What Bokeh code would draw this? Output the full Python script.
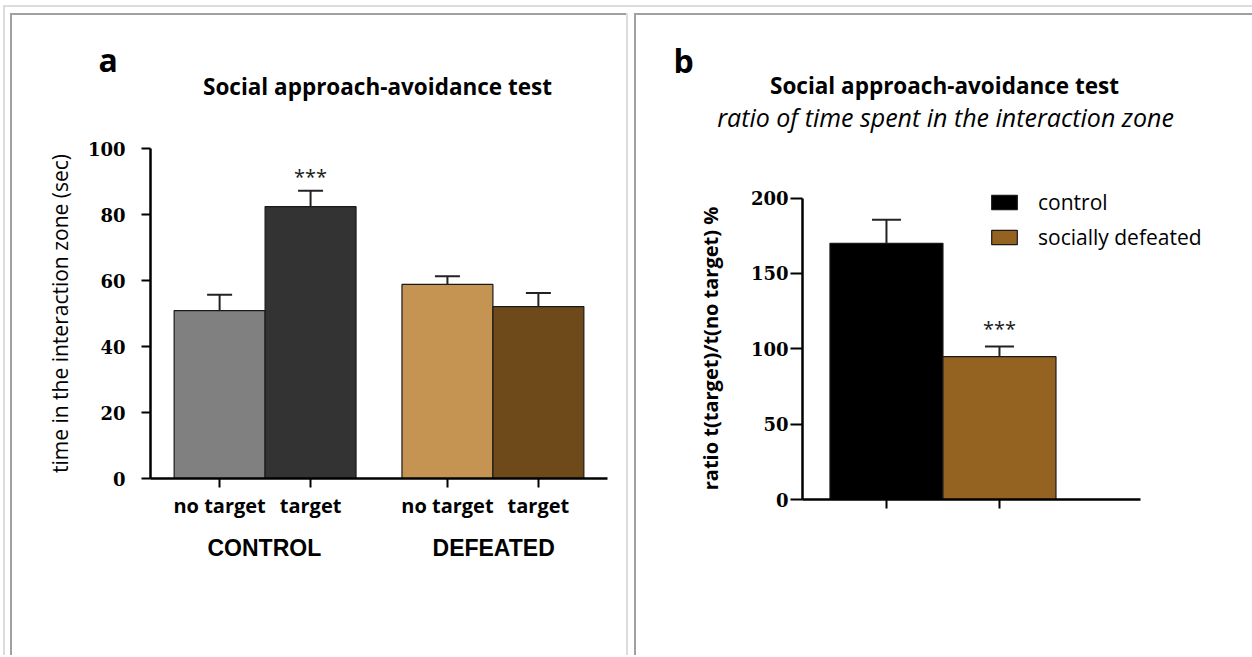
import math
from bokeh.plotting import figure
from bokeh.models import (ColumnDataSource, FactorRange, Range1d, Label, Spacer,
                          Legend, LegendItem, FixedTicker, CategoricalAxis)
from bokeh.layouts import row, column
from bokeh.embed import file_html
from bokeh.resources import INLINE
from bokeh.core.properties import value

# ---------------- panel a data ----------------
groups_a = ["CONTROL", "CONTROL", "DEFEATED", "DEFEATED"]
conditions_a = ["no target", "target", "no target", "target"]
time_mean = [50.9, 82.4, 58.8, 52.1]
time_sem = [4.8, 4.8, 2.5, 4.1]
colors_a = ["#808080", "#333333", "#c69452", "#6e4a1b"]
sig_a = ["", "***", "", ""]
yticks_a = [0, 20, 40, 60, 80, 100]
ylabel_a = "time in the interaction zone (sec)"
title_a = "Social approach-avoidance test"
panel_a = "a"

# ---------------- panel b data ----------------
groups_b = ["control", "socially defeated"]
ratio_mean = [170.0, 94.8]
ratio_sem = [15.7, 6.8]
colors_b = ["#000000", "#946321"]
sig_b = ["", "***"]
yticks_b = [0, 50, 100, 150, 200]
ylabel_b = "ratio t(target)/t(no target) %"
title_b = "Social approach-avoidance test"
subtitle_b = "ratio of time spent in the interaction zone"
panel_b = "b"

H = 640
WA = 614
WB = 616

TXT = "Open Sans"
SERIF = "DejaVu Serif"
ARIAL = "Liberation Sans"
DARK = "#a0a0a0"
LIGHT = "#dcdcdc"


def clabel(p, text, x, y, size, style="normal", font=TXT, align="left",
           baseline="alphabetic", angle=0.0, place="above"):
    p.add_layout(Label(x=x, y=y, x_units="canvas", y_units="canvas", text=text,
                       text_font=font, text_font_size=f"{size}px",
                       text_font_style=style, text_align=align, angle=angle,
                       text_baseline=baseline, text_color="#000000"), place)


def bar(w, h, color=None):
    s = Spacer(width=w, height=h)
    if color:
        s.styles = {"background-color": color}
    return s


def style_fig(p):
    p.grid.visible = False
    p.outline_line_color = None
    p.background_fill_color = "white"
    p.border_fill_color = "white"
    p.frame_align = False


def style_yaxis(ax, ticks, tick_out, standoff):
    ax.ticker = FixedTicker(ticks=ticks)
    ax.bounds = (ticks[0], ticks[-1])
    ax.minor_tick_line_color = None
    ax.axis_line_width = 2.5
    ax.axis_line_color = "black"
    ax.major_tick_line_width = 2
    ax.major_tick_line_color = "black"
    ax.major_tick_out = tick_out
    ax.major_tick_in = 0
    ax.major_label_standoff = standoff
    ax.major_label_text_font = SERIF
    ax.major_label_text_font_style = "bold"
    ax.major_label_text_font_size = "18px"
    ax.major_label_text_color = "black"


def sig_source(xs, uppers, sigs):
    keep = [i for i, s in enumerate(sigs) if s]
    return ColumnDataSource(dict(x=[xs[i] for i in keep], y=[uppers[i] for i in keep],
                                 t=[sigs[i] for i in keep]))


# ================= panel a =================
factors_a = list(zip(groups_a, conditions_a))
xr_a = FactorRange(factors=factors_a, factor_padding=0.0, group_padding=0.505,
                   range_padding=0.26, range_padding_units="absolute")
pa = figure(width=WA, height=H, x_range=xr_a, y_range=Range1d(0, 100),
            output_backend="svg", toolbar_location=None,
            min_border_left=138, min_border_right=19, min_border_top=133, min_border_bottom=177)
style_fig(pa)

upper_a = [m + s for m, s in zip(time_mean, time_sem)]
src_a = ColumnDataSource(dict(x=factors_a, top=time_mean, upper=upper_a, color=colors_a))
pa.vbar(x="x", top="top", bottom=0, width=1.0, fill_color="color",
        line_color="#1a1a1a", line_width=1.2, source=src_a)
pa.segment(x0="x", y0="top", x1="x", y1="upper", line_color="#222222", line_width=2, source=src_a)
pa.scatter(x="x", y="upper", marker="dash", size=25, line_color="#222222", line_width=2, source=src_a)
pa.text(x="x", y="y", text="t", text_align="center", text_baseline="alphabetic",
        y_offset=-14, text_font=value(TXT), text_font_size="20px", text_color="#1a1a1a",
        source=sig_source(factors_a, upper_a, sig_a))

ya = pa.yaxis[0]
style_yaxis(ya, yticks_a, 9, 16)
ya.axis_label = ylabel_a
ya.axis_label_text_font = TXT
ya.axis_label_text_font_style = "normal"
ya.axis_label_text_font_size = "21px"
ya.axis_label_text_color = "black"
ya.axis_label_standoff = 11

xa = pa.xaxis[0]
xa.axis_line_width = 2.5
xa.axis_line_color = "black"
xa.major_tick_line_width = 2
xa.major_tick_line_color = "black"
xa.major_tick_out = 9
xa.major_tick_in = 0
xa.minor_tick_line_color = None
xa.major_label_standoff = 4
xa.major_label_text_font = TXT
xa.major_label_text_font_style = "bold"
xa.major_label_text_font_size = "20px"
xa.major_label_text_color = "black"
xa.group_text_font_size = "0px"
xa.group_text_color = None
xa.separator_line_color = None

group_names = list(dict.fromkeys(groups_a))
pa.extra_x_ranges = {"groups": FactorRange(factors=group_names, factor_padding=1.511,
                                           range_padding=0.747, range_padding_units="absolute")}
ax2 = CategoricalAxis(x_range_name="groups", axis_line_color=None,
                      major_tick_line_color=None, minor_tick_line_color=None,
                      major_label_standoff=7, major_label_text_font=ARIAL,
                      major_label_text_font_size="23px", major_label_text_font_style="bold",
                      major_label_text_color="black")
pa.add_layout(ax2, "below")

clabel(pa, panel_a, 86, 44, 32, "bold")
clabel(pa, title_a, 365, 71, 22.5, "bold", align="center")

# ================= panel b =================
xb = list(range(len(groups_b)))
xstart, xend_axis = -0.743, 2.248
pb = figure(width=WB, height=H, x_range=Range1d(xstart, 3.239), y_range=Range1d(0, 211.7),
            output_backend="svg", toolbar_location=None,
            min_border_left=166, min_border_right=0, min_border_top=165, min_border_bottom=156)
style_fig(pb)

upper_b = [m + s for m, s in zip(ratio_mean, ratio_sem)]
src_b = ColumnDataSource(dict(x=xb, top=ratio_mean, upper=upper_b, color=colors_b))
rb = pb.vbar(x="x", top="top", bottom=0, width=1.0, fill_color="color",
             line_color="#1a1a1a", line_width=1.2, source=src_b)
pb.segment(x0="x", y0="top", x1="x", y1="upper", line_color="#222222", line_width=2, source=src_b)
pb.scatter(x="x", y="upper", marker="dash", size=29, line_color="#222222", line_width=2, source=src_b)
pb.text(x="x", y="y", text="t", text_align="center", text_baseline="alphabetic",
        y_offset=-18, text_font=value(TXT), text_font_size="20px", text_color="#1a1a1a",
        source=sig_source(xb, upper_b, sig_b))

style_yaxis(pb.yaxis[0], yticks_b, 12, 2)

xbx = pb.xaxis[0]
xbx.ticker = FixedTicker(ticks=xb)
xbx.bounds = (xstart, xend_axis)
xbx.axis_line_width = 2.5
xbx.axis_line_color = "black"
xbx.major_tick_line_width = 2
xbx.major_tick_line_color = "black"
xbx.major_tick_out = 9
xbx.major_tick_in = 0
xbx.minor_tick_line_color = None
xbx.major_label_text_font_size = "0px"
xbx.major_label_text_color = None

legend = Legend(items=[LegendItem(label=groups_b[i], renderers=[rb], index=i) for i in xb],
                location=(186, 248), glyph_width=32, glyph_height=18, label_height=18,
                label_standoff=18, spacing=7, padding=0, margin=0,
                border_line_color=None, background_fill_alpha=0,
                label_text_font=TXT, label_text_font_size="21px",
                label_text_color="black")
pb.add_layout(legend)

clabel(pb, panel_b, 37, 45, 32, "bold")
clabel(pb, title_b, 308, 70, 22.5, "bold", align="center")
clabel(pb, subtitle_b, 309, 101, 25, "italic", align="center")
clabel(pb, ylabel_b, 74, 333, 20, "bold", align="center", baseline="middle",
       angle=math.pi / 2, place="left")

# ================= page frame (table borders) =================
inner = row(
    bar(5, 2),
    bar(2, 642, DARK),
    column(bar(WA, 2, DARK), pa, spacing=0),
    bar(2, 642, LIGHT),
    bar(6, 2),
    bar(2, 642, DARK),
    column(bar(WB, 2, DARK), pb, spacing=0),
    spacing=0,
)
page = row(
    bar(3, 2),
    column(bar(2, 5), bar(2, 650, LIGHT), spacing=0),
    column(bar(1247, 5), bar(1247, 2, LIGHT), bar(1247, 6), inner, spacing=0),
    spacing=0,
)
open("out.html", "w").write(file_html(page, INLINE))
